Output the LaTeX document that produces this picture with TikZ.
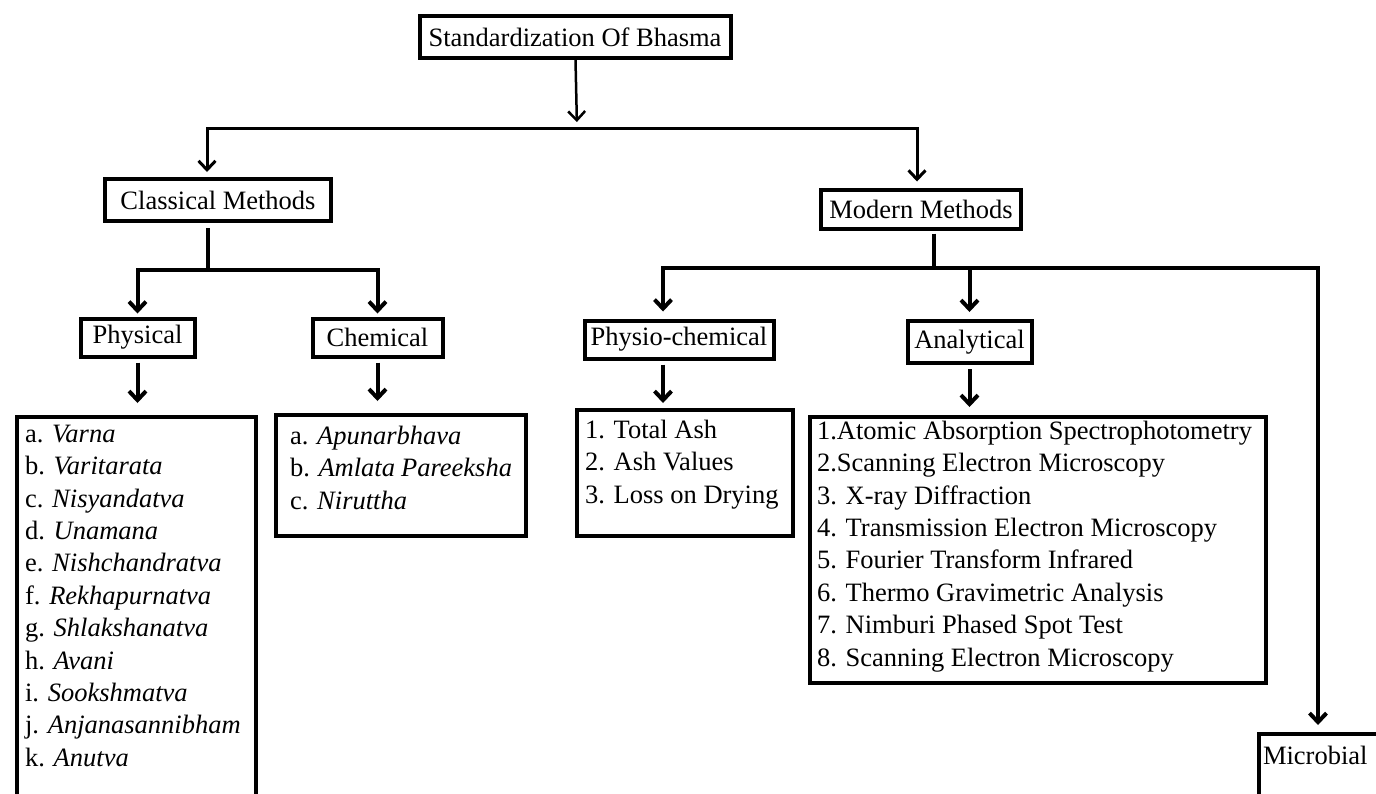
\documentclass[tikz,border=0pt]{standalone}
\usepackage{fontspec}
\setmainfont{Liberation Serif}
\usetikzlibrary{arrows.meta}

\newcommand{\itemlist}[3]{\parbox[c][#2][t]{#1}{\raggedright #3}}

\tikzset{
	box/.style = { draw, line width = 4pt, inner sep = 0pt,
		font = \fontsize{26.5}{32.4}\selectfont },
	listbox/.style = { box, anchor = north west },
	wire/.style = { line width = 4pt },
	drop/.style = { wire, -{Straight Barb[length=9pt, width=17pt]} }
}

\begin{document}
\begin{tikzpicture}[ x = 1pt, y = -1pt ]
	\useasboundingbox (0,0) rectangle (1376,793);
	\clip (0,0) rectangle (1376,793);

	% heads
	\node [ box, minimum width = 311pt, minimum height = 42pt ] (std) at (575,37)
		{ Standardization Of Bhasma };
	\node [ box, minimum width = 226pt, minimum height = 42pt ] (cls) at (218,200)
		{ Classical Methods };
	\node [ box, minimum width = 200pt, minimum height = 39pt ] (mod) at (921,209)
		{ Modern Methods };
	\node [ box, minimum width = 114pt, minimum height = 38pt ] (phy) at (137.5,337.5)
		{ Physical };
	\node [ box, minimum width = 130pt, minimum height = 38pt ] (chem) at (377.5,337.5)
		{ Chemical };
	\node [ box, minimum width = 189pt, minimum height = 38pt ] (pc) at (679,339.5)
		{ Physio-chemical };
	\node [ box, minimum width = 124pt, minimum height = 42pt ] (ana) at (969.5,342)
		{ Analytical };
	\node [ listbox, inner xsep = 4pt, inner ysep = 12pt ] (mic) at (1257,732)
		{ \itemlist{130pt}{60pt}{Microbial} };

	% lists
	\node [ listbox, inner sep = 8pt ] (phylist) at (15,415)
		{ \itemlist{223pt}{400pt}{ a. \textit{Varna}\\ b. \textit{Varitarata}\\
		c. \textit{Nisyandatva}\\ d. \textit{Unamana}\\ e. \textit{Nishchandratva}\\
		f. \textit{Rekhapurnatva}\\ g. \textit{Shlakshanatva}\\ h. \textit{Avani}\\
		i. \textit{Sookshmatva}\\ j. \textit{Anjanasannibham}\\ k. \textit{Anutva} } };
	\node [ listbox, inner xsep = 14pt, inner ysep = 11pt ] (chemlist) at (274,413)
		{ \itemlist{222pt}{99pt}{ a. \textit{Apunarbhava}\\
		b. \textit{Amlata Pareeksha}\\ c. \textit{Niruttha} } };
	\node [ listbox, inner xsep = 8pt, inner ysep = 10pt ] (pclist) at (575,408)
		{ \itemlist{200pt}{106pt}{ 1. Total Ash\\ 2. Ash Values\\
		3. Loss on Drying } };
	\node [ listbox, inner xsep = 7pt, inner ysep = 4pt ] (analist) at (808,415)
		{ \itemlist{442pt}{258pt}{ 1.Atomic Absorption Spectrophotometry\\
		2.Scanning Electron Microscopy\\ 3. X-ray Diffraction\\
		4. Transmission Electron Microscopy\\ 5. Fourier Transform Infrared\\
		6. Thermo Gravimetric Analysis\\ 7. Nimburi Phased Spot Test\\
		8. Scanning Electron Microscopy } };

	% forks
	\coordinate (top) at (577,128);
	\coordinate (barL) at (207,128);
	\coordinate (barR) at (917,128);
	\coordinate (clsfork) at (208,270);
	\coordinate (modfork) at (934,268);
	\coordinate (pcx) at (663,268);
	\coordinate (micx) at (1318,268);

	\draw [ drop, line width = 2.5pt, shorten > = 6pt ] (std) to (top);
	\draw [ drop, line width = 3pt, shorten > = 5pt ] (top) -| (barL |- cls.north);
	\draw [ drop, line width = 3pt, shorten > = 6pt ] (top) -| (barR |- mod.north);

	\draw [ wire, shorten < = 5pt ] (clsfork |- cls.south) to (clsfork);
	\draw [ drop, shorten > = 3pt ] (clsfork) -| (phy);
	\draw [ drop, shorten > = 3pt ] (clsfork) -| (chem);

	\draw [ wire, shorten < = 3pt ] (modfork |- mod.south) to (modfork);
	\draw [ drop, shorten > = 7pt ] (modfork) -| (pcx |- pc.north);
	\draw [ drop, shorten > = 7pt ] (modfork) -| (ana);
	\draw [ drop, shorten > = 7pt ] (modfork) -| (micx |- mic.north);

	\draw [ drop, shorten < = 4pt, shorten > = 12pt ] (phy.south) to (phy.south |- phylist.north);
	\draw [ drop, shorten < = 4pt, shorten > = 12pt ] (chem.south) to (chem.south |- chemlist.north);
	\draw [ drop, shorten < = 4pt, shorten > = 5pt ] (pcx |- pc.south) to (pcx |- pclist.north);
	\draw [ drop, shorten < = 4pt, shorten > = 8pt ] (ana.south) to (ana.south |- analist.north);
\end{tikzpicture}
\end{document}
